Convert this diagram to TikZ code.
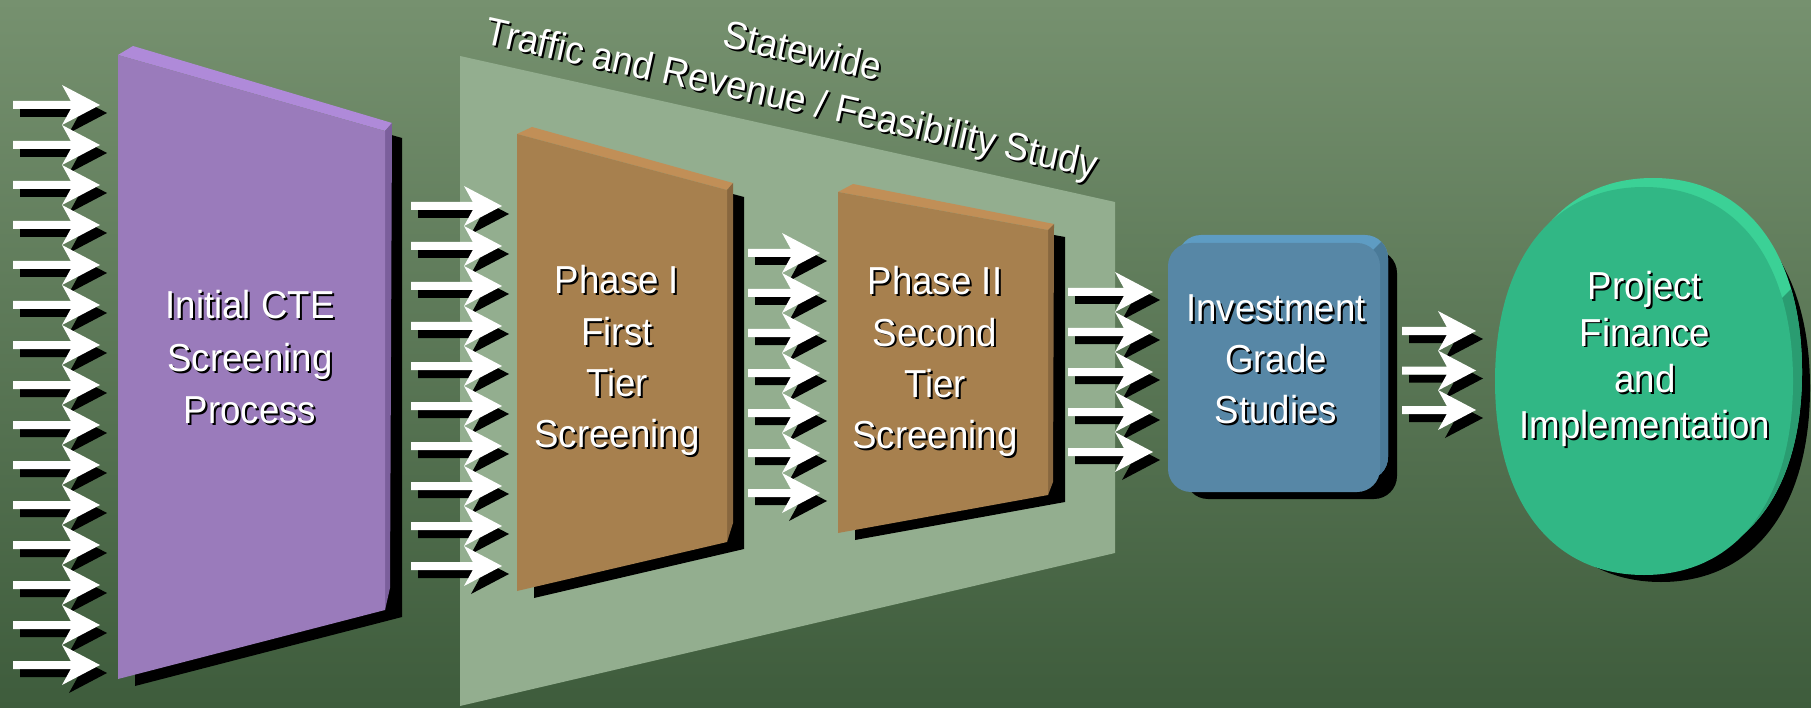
\documentclass[tikz,border=0pt]{standalone}
\usepackage{fontspec}
\setmainfont[FakeStretch=0.94]{Liberation Sans}
\usetikzlibrary{calc}

% palette
\definecolor{bgtop}{HTML}{76916F}
\definecolor{bgbot}{HTML}{3E5C3C}
\definecolor{panel}{HTML}{93AE8F}
\definecolor{purpleface}{HTML}{9A7BBB}
\definecolor{purpletop}{HTML}{AF8AD9}
\definecolor{purpleside}{HTML}{7B5F9C}
\definecolor{brownface}{HTML}{A7804E}
\definecolor{browntop}{HTML}{C18F57}
\definecolor{brownside}{HTML}{88673F}
\definecolor{blueface}{HTML}{5787A6}
\definecolor{bluetop}{HTML}{5E9CC3}
\definecolor{blueside}{HTML}{4A7A98}
\definecolor{greenface}{HTML}{31B785}
\definecolor{greentop}{HTML}{3BD196}
\definecolor{greenside}{HTML}{2A9C71}

\tikzset{
  txt/.style={anchor=base, inner sep=0pt, text=white, font=\fontsize{39}{47}\selectfont},
  txtsh/.style={txt, text=black},
  % block arrow with drop shadow, tip at the origin, #1 = total length
  pics/blockarrow/.style={code={
    \fill[black] (7-#1,4) -- (-22.2,4) -- (-31,-12) -- (7,8) -- (-31,28)
                 -- (-22.2,12) -- (7-#1,12) -- cycle;
    \fill[white] (-#1,-4) -- (-29.2,-4) -- (-38,-20) -- (0,0) -- (-38,20)
                 -- (-29.2,4) -- (-#1,4) -- cycle;
  }}
}

% stacked lines of shadowed text: name, x, first baseline, line step, lines
\newcommand\stacktext[5]{%
  \foreach \ln [count=\i] in {#5} {
    \node[txtsh] (#1s\i) at ({#2+2},{#3+#4*(\i-1)+2}) {\ln};
    \node[txt]   (#1\i)  at ({#2},{#3+#4*(\i-1)}) {\ln};
  }}

% full-bodied oval path: centre x, centre y, x radius, y radius
\newcommand\ovalpath[4]{%
  ({#1+#3},{#2})
  .. controls ({#1+#3},{#2-0.62*#4}) and ({#1+0.62*#3},{#2-#4}) .. ({#1},{#2-#4})
  .. controls ({#1-0.62*#3},{#2-#4}) and ({#1-#3},{#2-0.62*#4}) .. ({#1-#3},{#2})
  .. controls ({#1-#3},{#2+0.62*#4}) and ({#1-0.62*#3},{#2+#4}) .. ({#1},{#2+#4})
  .. controls ({#1+0.62*#3},{#2+#4}) and ({#1+#3},{#2+0.62*#4}) .. ({#1+#3},{#2})
  -- cycle}

\begin{document}
\begin{tikzpicture}[x=1pt,y=-1pt]
\useasboundingbox (0,0) rectangle (1811,708);

% background
\shade[top color=bgtop, bottom color=bgbot] (0,0) rectangle (1811,708);

% statewide study panel
\fill[panel] (460,56) -- (1115,202) -- (1115,553) -- (460,706) -- cycle;

% titles along the panel top
\node[txtsh, rotate=-12.4] (titleAs) at (802,66) {Statewide};
\node[txt,   rotate=-12.4] (titleA)  at (800,64) {Statewide};
\node[txtsh, rotate=-12.4] (titleBs) at (791,113) {Traffic and Revenue / Feasibility Study};
\node[txt,   rotate=-12.4] (titleB)  at (789,111) {Traffic and Revenue / Feasibility Study};

% initial screening slab
\fill[black] (135,62) -- (402,138) -- (402,617) -- (135,686) -- cycle;
\fill[purpletop] (118,55) -- (133,46) -- (392,123) -- (385,131) -- cycle;
\fill[purpleside] (385,131) -- (392,123) -- (390,588) -- (385,610) -- cycle;
\fill[purpleface] (118,55) -- (385,131) -- (385,610) -- (118,679) -- cycle;
\stacktext{cte}{250}{319}{52}{Initial CTE,Screening,Process}

% phase I slab
\fill[black] (534,141) -- (744,197) -- (744,549) -- (534,598) -- cycle;
\fill[browntop] (517,134) -- (532,127) -- (733,183) -- (727,190) -- cycle;
\fill[brownside] (727,190) -- (733,183) -- (733,523) -- (727,542) -- cycle;
\fill[brownface] (517,134) -- (727,190) -- (727,542) -- (517,591) -- cycle;
\stacktext{ph}{617}{294}{51.3}{Phase I,First,Tier,Screening}

% phase II slab
\fill[black] (855,199) -- (1065,237) -- (1065,502) -- (855,540) -- cycle;
\fill[browntop] (838,192) -- (853,184) -- (1054,224) -- (1048,230) -- cycle;
\fill[brownside] (1048,230) -- (1054,224) -- (1053,482) -- (1048,495) -- cycle;
\fill[brownface] (838,192) -- (1048,230) -- (1048,495) -- (838,533) -- cycle;
\stacktext{pt}{935}{295}{51}{Phase II,Second,Tier,Screening}

% investment grade block
\fill[black, rounded corners=23pt] (1185,250) rectangle (1397,499);
\fill[bluetop, rounded corners=23pt] (1178,235) rectangle (1388,480);
\begin{scope}
  \clip (1355,268) -- (1405,218) -- (1420,218) -- (1420,520) -- (1300,520) -- cycle;
  \fill[blueside, rounded corners=23pt] (1178,235) rectangle (1388,480);
\end{scope}
\fill[blueface, rounded corners=23pt] (1168,243) rectangle (1380,492);
\stacktext{inv}{1276}{322}{50.5}{Investment,Grade,Studies}

% finance disc
\fill[black] \ovalpath{1661}{388}{149}{194};
\fill[greentop] \ovalpath{1653}{372}{149}{194};
\begin{scope}
  \clip (1400,680) -- (1900,180) -- (1900,680) -- cycle;
  \fill[greenside] \ovalpath{1653}{372}{149}{194};
\end{scope}
\fill[greenface] \ovalpath{1644}{381}{149}{194};
\stacktext{fin}{1645}{300}{46}{Project,Finance,and,Implementation}

% incoming flows
\foreach \k in {0,...,14} \pic at (100,{105+40*\k}) {blockarrow=87};
\foreach \k in {0,...,9}  \pic at (502,{206+40*\k}) {blockarrow=91};
\foreach \k in {0,...,6}  \pic at (820,{253+40*\k}) {blockarrow=72};
\foreach \k in {0,...,4}  \pic at (1153,{292+40*\k}) {blockarrow=85};
\foreach \k in {0,...,2}  \pic at (1476,{331+39.5*\k}) {blockarrow=74};
\end{tikzpicture}
\end{document}
